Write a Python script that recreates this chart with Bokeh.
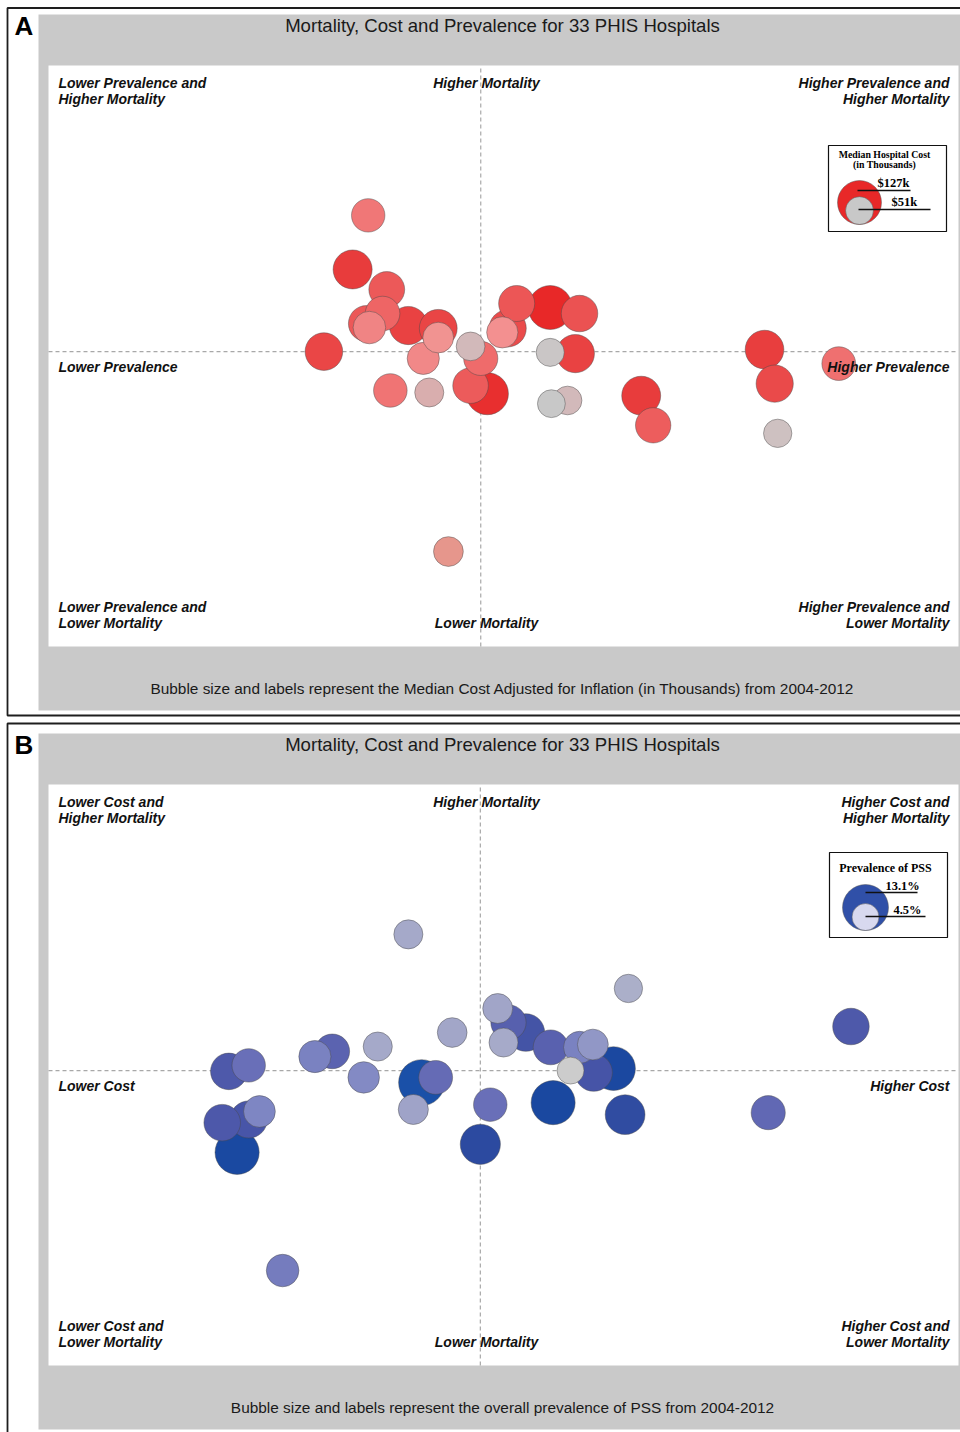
import numpy as np
from bokeh.plotting import figure
from bokeh.models import Range1d, ColumnDataSource
from bokeh.transform import linear_cmap
from bokeh.core.properties import value
from bokeh.embed import file_html
from bokeh.resources import INLINE

# ---------------------------------------------------------------------------
# 33 PHIS hospitals: PSS mortality (%), PSS prevalence (%), median cost ($k)
# ---------------------------------------------------------------------------
hospital = list(range(1, 34))
mortality = [10.76, 9.41, 8.91, 8.56, 8.46, 8.31, 8.31, 8.06, 8.01, 7.96, 7.94,
             7.94, 7.84, 7.71, 7.49, 7.41, 7.36, 7.34, 7.31, 7.19, 7.19, 7.06,
             6.56, 6.51, 6.39, 6.34, 6.31, 6.26, 6.14, 6.06, 5.52, 5.32, 2.37]
prevalence = [5.24, 4.98, 5.55, 7.72, 8.28, 5.48, 8.77, 5.21, 5.91, 5.26, 6.41,
              7.57, 7.48, 6.41, 6.95, 11.86, 4.50, 8.28, 8.70, 6.16, 7.12, 13.10,
              12.03, 6.95, 5.61, 6.26, 7.23, 9.80, 8.57, 8.30, 10.00, 12.08, 6.58]
cost = [73.5, 100.1, 84.3, 85.6, 127.0, 78.8, 87.7, 85.0, 95.8, 69.8, 94.2,
        90.7, 64.3, 62.2, 54.2, 98.3, 93.1, 51.8, 95.9, 68.1, 76.8, 75.1,
        91.0, 83.4, 74.1, 55.5, 117.0, 99.7, 54.2, 51.0, 82.2, 52.8, 58.3]

cost_legend = [127, 51]       # $k shown in the size key of panel A
prev_legend = [13.1, 4.5]     # % shown in the size key of panel B

# axis extents of the white plotting areas (axes themselves are hidden)
MORT_LIM = (0.0, 14.5)
PREV_LIM = (-0.1, 15.1)
COST_LIM = (30.0, 140.0)

W, H = 960, 1432
SANS = value("Liberation Sans")
SERIF = value("Liberation Serif")


def cost_radius(c):
    return 1.95 * np.sqrt(np.asarray(c, dtype=float))


def prev_radius(v):
    return 6.35 * np.sqrt(np.asarray(v, dtype=float))


def ramp(stops, lo, hi, n=256):
    vals = [s[0] for s in stops]
    rgb = np.array([[int(s[1][i:i + 2], 16) for i in (1, 3, 5)] for s in stops], float)
    out = []
    for t in np.linspace(lo, hi, n):
        r, g, b = (np.interp(t, vals, rgb[:, k]) for k in range(3))
        out.append("#%02x%02x%02x" % (int(round(r)), int(round(g)), int(round(b))))
    return out


red_palette = ramp([(51, "#c8c8c8"), (53, "#cfc0c0"), (55, "#d6b2b4"), (58, "#e6968c"),
                    (63, "#f49292"), (70, "#f08484"), (74, "#f07474"), (78, "#ee6666"),
                    (84, "#ec5a5a"), (92, "#ea4848"), (100, "#e83c3c"), (127, "#e82828")],
                   51, 127)
blue_palette = ramp([(4.5, "#cccccc"), (5.0, "#a9adc9"), (5.6, "#a0a4c8"), (6.2, "#8088c4"),
                     (6.9, "#6a70b8"), (7.5, "#5a62b0"), (8.5, "#4a56a8"), (10.0, "#2c4aa0"),
                     (12.0, "#1a48a0"), (13.1, "#1a50a8")],
                    4.5, 13.1)


def fit(lo, hi, a, b, total):
    """Range whose value lo lands a px and hi lands b px from the start edge."""
    k = (hi - lo) / (b - a)
    return Range1d(start=lo - a * k, end=hi + (total - b) * k)


p = figure(width=W, height=H, x_range=Range1d(0, W), y_range=Range1d(H, 0),
           output_backend="svg", toolbar_location=None, min_border=0,
           x_axis_location=None, y_axis_location=None, outline_line_color=None,
           background_fill_color="white", border_fill_color="white")
p.grid.visible = False


def text(xs, ys, labels, size, align="left", font=SANS, style="normal", color="#111111"):
    # ys are baselines; the svg text sits lower than the canvas baseline, so lift it
    px = float(size.replace("px", ""))
    p.text(x=xs, y=[y - 0.37 * px for y in ys], text=labels, text_font=font,
           text_font_size=size, text_font_style=style, text_align=align,
           text_baseline="alphabetic", text_color=color)


panels = [
    dict(tag="A", box=(7, 975, 7.5, 715), gray=(38, 975, 14, 710), frame=(65, 646),
         xname="prevA", yname="mortA", xlim=PREV_LIM, xvals=prevalence,
         svals=cost, radius=cost_radius, palette=red_palette, cfield_lo=51, cfield_hi=127,
         left="Lower Prevalence", right="Higher Prevalence",
         footer="Bubble size and labels represent the Median Cost Adjusted for Inflation (in Thousands) from 2004-2012"),
    dict(tag="B", box=(7, 975, 723, 1445), gray=(38, 975, 733, 1429), frame=(784, 1365),
         xname="costB", yname="mortB", xlim=COST_LIM, xvals=cost,
         svals=prevalence, radius=prev_radius, palette=blue_palette, cfield_lo=4.5, cfield_hi=13.1,
         left="Lower Cost", right="Higher Cost",
         footer="Bubble size and labels represent the overall prevalence of PSS from 2004-2012"),
]

for pn in panels:
    ftop, fbot = pn["frame"]
    p.extra_x_ranges[pn["xname"]] = fit(pn["xlim"][0], pn["xlim"][1], 48, 958, W)
    p.extra_y_ranges[pn["yname"]] = fit(MORT_LIM[0], MORT_LIM[1], H - fbot, H - ftop, H)
    kw = dict(x_range_name=pn["xname"], y_range_name=pn["yname"])

    # panel frame, grey band and white plotting area
    l, r, t, b = pn["box"]
    p.quad(left=[l], right=[r], top=[t], bottom=[b], fill_color=None,
           line_color="#1e1e1e", line_width=1.8)
    l, r, t, b = pn["gray"]
    p.quad(left=[l], right=[r], top=[t], bottom=[b], fill_color="#c9c9c9", line_color=None)
    p.quad(left=[pn["xlim"][0]], right=[pn["xlim"][1]], bottom=[MORT_LIM[0]],
           top=[MORT_LIM[1]], fill_color="white", line_color=None, **kw)

    # median cross-hairs
    mx = float(np.median(pn["xvals"]))
    my = float(np.median(mortality))
    p.segment(x0=[mx], x1=[mx], y0=[MORT_LIM[0]], y1=[MORT_LIM[1]], line_color="#a8a8a8",
              line_width=1.2, line_dash="4 3", **kw)
    p.segment(x0=[pn["xlim"][0]], x1=[pn["xlim"][1]], y0=[my], y1=[my], line_color="#a8a8a8",
              line_width=1.2, line_dash="4 3", **kw)

    # bubbles, largest first so smaller ones stay visible
    order = np.argsort(-np.asarray(pn["svals"]), kind="stable")
    src = ColumnDataSource(dict(
        hosp=[hospital[i] for i in order],
        x=[pn["xvals"][i] for i in order],
        m=[mortality[i] for i in order],
        s=[pn["svals"][i] for i in order],
        size=list(2 * pn["radius"]([pn["svals"][i] for i in order])),
    ))
    p.scatter(x="x", y="m", size="size", marker="circle", source=src,
              fill_color=linear_cmap("s", pn["palette"], pn["cfield_lo"], pn["cfield_hi"]),
              line_color="#4a4a4a", line_alpha=0.45, line_width=1, **kw)

    # title, panel letter, footer
    text([14], [pn["gray"][2] + 21], [pn["tag"]], "26px", style="bold", color="#000000")
    text([502], [ftop - 33], ["Mortality, Cost and Prevalence for 33 PHIS Hospitals"], "18.6px",
         align="center", color="#1a1a1a")
    text([502], [fbot + 48], [pn["footer"]], "15.4px", align="center", color="#1a1a1a")

    # quadrant captions
    what = pn["left"].split()[1]
    text([58, 58], [ftop + 23, ftop + 39], [f"Lower {what} and", "Higher Mortality"], "14px",
         style="bold italic")
    text([949, 949], [ftop + 23, ftop + 39], [f"Higher {what} and", "Higher Mortality"], "14px",
         align="right", style="bold italic")
    text([486], [ftop + 23], ["Higher Mortality"], "14px", align="center", style="bold italic")
    text([58], [ftop + 307], [pn["left"]], "14px", style="bold italic")
    text([949], [ftop + 307], [pn["right"]], "14px", align="right", style="bold italic")
    text([58, 58], [fbot - 34, fbot - 18], [f"Lower {what} and", "Lower Mortality"], "14px",
         style="bold italic")
    text([949, 949], [fbot - 34, fbot - 18], [f"Higher {what} and", "Lower Mortality"], "14px",
         align="right", style="bold italic")
    text([486], [fbot - 18], ["Lower Mortality"], "14px", align="center", style="bold italic")

# ---- size key, panel A ------------------------------------------------------
p.quad(left=[828], right=[946], top=[145], bottom=[231], fill_color="white",
       line_color="#111111", line_width=1.2)
text([884, 884], [158, 168], ["Median Hospital Cost", "(in Thousands)"], "9.8px",
     align="center", font=SERIF, style="bold", color="#000000")
ra = cost_radius(cost_legend)
p.scatter(x=[859, 859], y=list(224 - ra), size=list(2 * ra), marker="circle",
          fill_color=[red_palette[-1], red_palette[0]], line_color="#555555", line_alpha=0.5)
p.segment(x0=[857, 858], x1=[910, 930], y0=[190, 209], y1=[190, 209],
          line_color="#111111", line_width=1.5)
text([877, 891], [187, 206], [f"${v:g}k" for v in cost_legend], "12.5px", font=SERIF,
     style="bold", color="#000000")

# ---- size key, panel B ------------------------------------------------------
p.quad(left=[829], right=[947], top=[852], bottom=[937], fill_color="white",
       line_color="#111111", line_width=1.2)
text([885], [872], ["Prevalence of PSS"], "12px", align="center", font=SERIF,
     style="bold", color="#000000")
rb = prev_radius(prev_legend)
p.scatter(x=[865, 865], y=list(930 - rb), size=list(2 * rb), marker="circle",
          fill_color=["#3050a8", "#d8d9ef"], line_color="#555555", line_alpha=0.5)
p.segment(x0=[865, 865], x1=[917, 925], y0=[892, 916], y1=[892, 916],
          line_color="#111111", line_width=1.5)
text([885, 893], [890, 914], [f"{v:g}%" for v in prev_legend], "12.4px", font=SERIF,
     style="bold", color="#000000")

open("out.html", "w").write(file_html(p, INLINE))
